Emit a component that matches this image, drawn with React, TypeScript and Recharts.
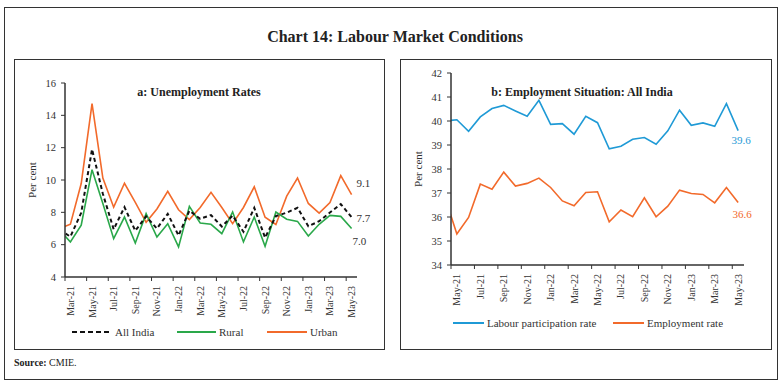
import React from 'react';
import { LineChart, Line, XAxis, YAxis } from 'recharts';

// Feb-21 sits just outside the axis and is clipped, as in the source chart
const unempMonths = [
  'Feb-21', 'Mar-21', 'Apr-21', 'May-21', 'Jun-21', 'Jul-21', 'Aug-21', 'Sep-21', 'Oct-21', 'Nov-21',
  'Dec-21', 'Jan-22', 'Feb-22', 'Mar-22', 'Apr-22', 'May-22', 'Jun-22', 'Jul-22', 'Aug-22', 'Sep-22',
  'Oct-22', 'Nov-22', 'Dec-22', 'Jan-23', 'Feb-23', 'Mar-23', 'Apr-23', 'May-23',
];
const allIndia = [
  6.9, 6.5, 7.97, 11.9, 9.15, 6.95, 8.32, 6.86, 7.75, 7.0, 7.91, 6.57, 8.1, 7.6,
  7.83, 7.12, 7.8, 6.8, 8.28, 6.43, 7.77, 7.98, 8.28, 7.14, 7.45, 7.99, 8.51, 7.7,
];
const rural = [
  6.9, 6.17, 7.2, 10.64, 8.54, 6.37, 7.71, 6.1, 7.92, 6.47, 7.3, 5.86, 8.37, 7.34,
  7.26, 6.68, 8.02, 6.17, 7.71, 5.9, 8.02, 7.57, 7.44, 6.54, 7.26, 7.81, 7.75, 7.0,
];
const urban = [
  7.0, 7.27, 9.78, 14.73, 10.12, 8.32, 9.8, 8.62, 7.38, 8.21, 9.3, 8.16, 7.55, 8.3,
  9.24, 8.3, 7.3, 8.3, 9.58, 7.7, 7.25, 9.0, 10.12, 8.55, 7.95, 8.6, 10.27, 9.1,
];
const unempTicks = [0, 2, 4, 6, 8, 10, 12, 14, 16, 18, 20, 22, 24, 26];
const unempYTicks = [4, 6, 8, 10, 12, 14, 16];

// Apr-21 sits just outside the axis and is clipped
const empMonths = [
  'Apr-21', 'May-21', 'Jun-21', 'Jul-21', 'Aug-21', 'Sep-21', 'Oct-21', 'Nov-21', 'Dec-21',
  'Jan-22', 'Feb-22', 'Mar-22', 'Apr-22', 'May-22', 'Jun-22', 'Jul-22', 'Aug-22', 'Sep-22',
  'Oct-22', 'Nov-22', 'Dec-22', 'Jan-23', 'Feb-23', 'Mar-23', 'Apr-23', 'May-23',
];
const participation = [
  40.0, 40.05, 39.57, 40.17, 40.52, 40.65, 40.42, 40.2, 40.86, 39.86, 39.89, 39.45, 40.2,
  39.93, 38.84, 38.95, 39.24, 39.31, 39.03, 39.59, 40.45, 39.82, 39.92, 39.78, 40.72, 39.6,
];
const employment = [
  36.8, 35.29, 35.98, 37.37, 37.16, 37.87, 37.29, 37.4, 37.62, 37.23, 36.67, 36.47, 37.02,
  37.05, 35.8, 36.29, 36.01, 36.8, 36.01, 36.45, 37.12, 36.98, 36.94, 36.59, 37.23, 36.6,
];
const empTicks = [0, 2, 4, 6, 8, 10, 12, 14, 16, 18, 20, 22, 24];
const empYTicks = [34, 35, 36, 37, 38, 39, 40, 41, 42];

const ORANGE = '#f26a2b';
const GREEN = '#2aa84a';
const BLUE = '#1f9ad6';
const INK = '#333';
const FONT = '"Liberation Serif", "Times New Roman", serif';

const unempData = unempMonths.map((m, i) => ({
  i: i - 1,
  month: m,
  allIndia: allIndia[i],
  rural: rural[i],
  urban: urban[i],
}));
const empData = empMonths.map((m, i) => ({
  i: i - 1,
  month: m,
  participation: participation[i],
  employment: employment[i],
}));

// label at the month centre, tick mark on the boundary half a month to the left
function monthTick(labels: string[], first: number, half: number) {
  return (props: any) => {
    const { x, y, payload } = props;
    const label = labels[payload.value - first];
    return (
      <g>
        <line x1={x - half} x2={x - half} y1={y - 9} y2={y - 5} stroke={INK} strokeWidth={1} />
        <text
          x={x}
          y={y}
          transform={`rotate(-90 ${x} ${y})`}
          textAnchor="end"
          dominantBaseline="central"
          fontFamily={FONT}
          fontSize={10}
          fill={INK}
        >
          {label}
        </text>
      </g>
    );
  };
}

function endLabel(last: number, dx: number, dy: number, color: string, anchor = 'start') {
  return (props: any) => {
    const { x, y, index, value } = props;
    if (index !== last) return null;
    return (
      <text
        x={x + dx}
        y={y + dy}
        textAnchor={anchor}
        dominantBaseline="central"
        fontFamily={FONT}
        fontSize={11}
        fill={color}
      >
        {Number(value).toFixed(1)}
      </text>
    );
  };
}

const axisTick = { fontFamily: FONT, fontSize: 10.5, fill: INK };

function LegendItem({ left, top, color, dashed, width, text }: any) {
  return (
    <div style={{ position: 'absolute', left, top, display: 'flex', alignItems: 'center', height: 14 }}>
      <svg width={width} height={4} style={{ display: 'block' }}>
        <line x1={0} x2={width} y1={2} y2={2} stroke={color} strokeWidth={2} strokeDasharray={dashed ? '5 3' : undefined} />
      </svg>
      <span style={{ marginLeft: 3, fontFamily: FONT, fontSize: 11, color: INK, whiteSpace: 'nowrap' }}>{text}</span>
    </div>
  );
}

const box = (left: number, top: number, width: number, height: number): React.CSSProperties => ({
  position: 'absolute',
  left,
  top,
  width,
  height,
  border: `1px solid ${INK}`,
  boxSizing: 'border-box',
});

export default function App() {
  const lastU = unempData.length - 1;
  const lastE = empData.length - 1;
  return (
    <div style={{ position: 'absolute', left: 0, top: 0, width: 783, height: 385, background: '#fff', overflow: 'hidden' }}>
      <div style={box(4, 7, 774, 373)} />
      <div style={box(14, 59, 371, 291)} />
      <div style={box(400, 59, 372, 291)} />

      <div style={{ position: 'absolute', left: 0, width: 790, top: 28, textAlign: 'center', fontFamily: FONT, fontWeight: 700, fontSize: 16, color: '#222' }}>
        Chart 14: Labour Market Conditions
      </div>
      <div style={{ position: 'absolute', left: 14, width: 370, top: 85, textAlign: 'center', fontFamily: FONT, fontWeight: 700, fontSize: 12, color: '#222' }}>
        a: Unemployment Rates
      </div>
      <div style={{ position: 'absolute', left: 392, width: 380, top: 85, textAlign: 'center', fontFamily: FONT, fontWeight: 700, fontSize: 12, color: '#222' }}>
        b: Employment Situation: All India
      </div>

      <div style={{ position: 'absolute', left: 14, top: 59 }}>
        <LineChart width={370} height={290} data={unempData} margin={{ top: 24, right: 27, bottom: 27, left: 0 }}>
          <XAxis
            dataKey="i"
            type="number"
            domain={[-0.5, 26.5]}
            allowDataOverflow
            ticks={unempTicks}
            interval={0}
            height={45}
            tickSize={4}
            tickMargin={5}
            tickLine={false}
            axisLine={{ stroke: INK, strokeWidth: 1.5 }}
            tick={monthTick(unempMonths, -1, 292 / 27 / 2)}
          />
          <YAxis
            domain={[4, 16]}
            ticks={unempYTicks}
            width={51}
            tickSize={4}
            tickMargin={5}
            tick={axisTick}
            tickLine={{ stroke: INK }}
            axisLine={{ stroke: INK, strokeWidth: 1.5 }}
            label={{ value: 'Per cent', angle: -90, position: 'insideLeft', offset: 18, style: { textAnchor: 'middle', fontFamily: FONT, fontSize: 11, fill: INK } }}
          />
          <Line dataKey="urban" stroke={ORANGE} strokeWidth={1.6} dot={false} isAnimationActive={false} label={endLabel(lastU, 5, -12, INK)} />
          <Line dataKey="rural" stroke={GREEN} strokeWidth={1.6} dot={false} isAnimationActive={false} label={endLabel(lastU, 1, 12, INK)} />
          <Line dataKey="allIndia" stroke="#111" strokeWidth={2} strokeDasharray="4 3" dot={false} isAnimationActive={false} label={endLabel(lastU, 5, 1, INK)} />
        </LineChart>
      </div>

      <div style={{ position: 'absolute', left: 400, top: 59 }}>
        <LineChart width={372} height={290} data={empData} margin={{ top: 14, right: 28, bottom: 39, left: 0 }}>
          <XAxis
            dataKey="i"
            type="number"
            domain={[-0.5, 24.5]}
            allowDataOverflow
            ticks={empTicks}
            interval={0}
            height={45}
            tickSize={4}
            tickMargin={5}
            tickLine={false}
            axisLine={{ stroke: INK, strokeWidth: 1.5 }}
            tick={monthTick(empMonths, -1, 293 / 25 / 2)}
          />
          <YAxis
            domain={[34, 42]}
            ticks={empYTicks}
            width={51}
            tickSize={4}
            tickMargin={5}
            tick={axisTick}
            tickLine={{ stroke: INK }}
            axisLine={{ stroke: INK, strokeWidth: 1.5 }}
            label={{ value: 'Per cent', angle: -90, position: 'insideLeft', offset: 18, style: { textAnchor: 'middle', fontFamily: FONT, fontSize: 11, fill: INK } }}
          />
          <Line dataKey="participation" stroke={BLUE} strokeWidth={1.6} dot={false} isAnimationActive={false} label={endLabel(lastE, 3, 9, BLUE, 'middle')} />
          <Line dataKey="employment" stroke={ORANGE} strokeWidth={1.6} dot={false} isAnimationActive={false} label={endLabel(lastE, 4, 11, ORANGE, 'middle')} />
        </LineChart>
      </div>

      <LegendItem left={72} top={325} color="#111" dashed width={40} text="All India" />
      <LegendItem left={177} top={325} color={GREEN} width={39} text="Rural" />
      <LegendItem left={267} top={325} color={ORANGE} width={40} text="Urban" />
      <LegendItem left={453} top={316} color={BLUE} width={31} text="Labour participation rate" />
      <LegendItem left={613} top={316} color={ORANGE} width={31} text="Employment rate" />

      <div style={{ position: 'absolute', left: 14, top: 357, fontFamily: FONT, fontSize: 10, color: '#222' }}>
        <b>Source:</b> CMIE.
      </div>
    </div>
  );
}
